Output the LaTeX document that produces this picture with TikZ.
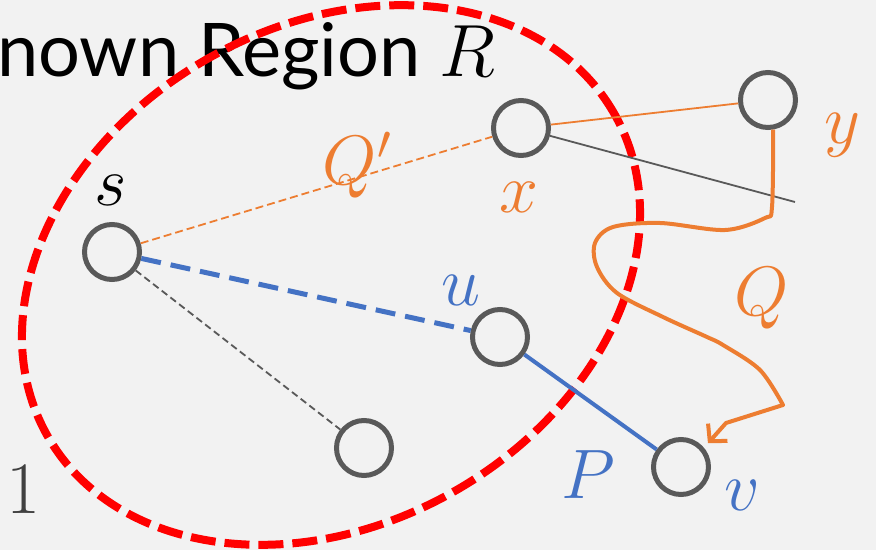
\documentclass[tikz,border=0pt]{standalone}
\usepackage{fix-cm}
\usepackage{fontspec}
\setmainfont{Lato}
\usepackage{xcolor}
\definecolor{bggray}{HTML}{F2F2F2}
\definecolor{nodegray}{HTML}{595959}
\definecolor{darkgray}{HTML}{404040}
\definecolor{qorange}{HTML}{ED7D31}
\definecolor{pblue}{HTML}{4472C4}
\definecolor{regred}{HTML}{FF0000}
\usetikzlibrary{arrows.meta,calc}

\begin{document}
\begin{tikzpicture}[
  x=1pt, y=1pt,
  vert/.style={
    circle,
    draw=nodegray,
    line width=5pt,
    minimum size=55pt,
    inner sep=0pt
  },
  lab/.style={
    font=\fontsize{70}{80}\selectfont,
    inner sep=0pt
  },
  region/.style={
    draw=regred,
    line width=8pt,
    dash pattern=on 25pt off 9pt
  },
  thinedge/.style={line width=1.8pt},
  qline/.style={
    draw=qorange,
    line width=4pt,
    line join=round,
    -{Straight Barb[length=12pt,width=26pt]}
  }
]
\useasboundingbox (0,0) rectangle (876,550);
\fill[bggray] (0,0) rectangle (876,550);

% Title and page number
\node[lab, anchor=base west, font=\fontsize{74}{80}\selectfont] (title)
  at (-3,473) {nown Region $R$};
\node[lab, anchor=base west, text=darkgray, font=\fontsize{74}{80}\selectfont] (pnum)
  at (6,37) {$1$};

% Region R
\draw[region] (331,275) ellipse [x radius=326, y radius=249, rotate=29.6];

% Vertices
\node[vert] (s) at (112,298) {};
\node[vert] (x) at (521,422) {};
\node[vert] (y) at (768,450) {};
\node[vert] (u) at (500,213) {};
\node[vert] (w) at (364,102) {};
\node[vert] (v) at (681,83) {};
\coordinate (xend) at (795,348);

% Edges
\draw[thinedge, qorange, dash pattern=on 8pt off 4pt] (s) -- (x);
\draw[thinedge, qorange] (x) -- (y);
\draw[thinedge, nodegray] (x) -- (xend);
\draw[thinedge, nodegray, dash pattern=on 7pt off 4pt] (s) -- (w);
\draw[pblue, line width=5pt, dash pattern=on 20pt off 10pt] (s) -- (u);
\draw[pblue, line width=4pt] (u) -- (v);

% Path Q
\draw[qline, shorten >=6pt] plot[smooth, tension=0.55] coordinates {
  (y.-80) (772,343) (765,332) (725,320) (660,327) (613,323) (595,307)
  (597,283) (617,257) (663,233) (707,213) (723,205) (760,180) (783,145)}
  -- (726,127) -- (v.40);

% Labels
\node[lab] (slab) at (111,360) {$s$};
\node[lab, text=qorange] (xlab) at (519,353) {$x$};
\node[lab, text=qorange] (ylab) at (842,415) {$y$};
\node[lab, text=qorange] (qplab) at (357,385) {$Q'$};
\node[lab, text=qorange] (qlab) at (762,252) {$Q$};
\node[lab, text=pblue] (ulab) at (461,260) {$u$};
\node[lab, text=pblue] (plab) at (588,75) {$P$};
\node[lab, text=pblue] (vlab) at (742,55) {$v$};
\end{tikzpicture}
\end{document}
